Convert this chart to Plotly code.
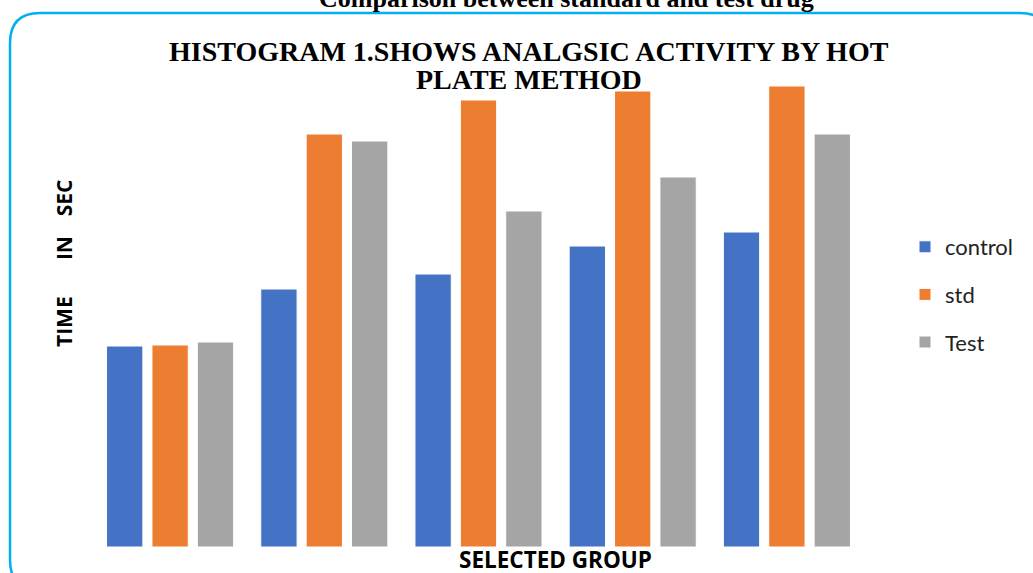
import plotly.graph_objects as go

# ---- data (seconds) ----
groups = ["Group 1", "Group 2", "Group 3", "Group 4", "Group 5"]
control = [4.02, 5.16, 5.46, 6.02, 6.30]
std = [4.04, 8.26, 8.94, 9.12, 9.22]
test = [4.10, 8.12, 6.72, 7.40, 8.26]
series_names = ["control", "std", "Test"]
colors = ["#4472C4", "#ED7D31", "#A5A5A5"]

W, H = 1033, 573
L, R, T, B = 93, 864, 47, 547


def px(x):
    return (x - L) / (R - L)


def py(y):
    return (B - y) / (B - T)


fig = go.Figure()
for i, (name, vals) in enumerate(zip(series_names, [control, std, test])):
    fig.add_trace(go.Bar(
        x=groups, y=vals, name=name, legendgroup=name,
        marker=dict(color=colors[i], line=dict(color="white", width=1)),
    ))

fig.update_layout(
    width=W, height=H,
    margin=dict(l=L, r=W - R, t=T, b=H - B, autoexpand=False),
    paper_bgcolor="white", plot_bgcolor="white",
    barmode="group", bargap=0.117, bargroupgap=0.2,
    showlegend=True,
    legend=dict(x=px(905), y=py(226), xanchor="left", yanchor="top",
                traceorder="grouped", tracegroupgap=16,
                font=dict(family="Lato", size=22, color="#222"),
                itemwidth=30),
    xaxis=dict(showticklabels=False, showgrid=False, zeroline=False,
               showline=False, ticks=""),
    yaxis=dict(range=[0, 10], showticklabels=False, showgrid=False,
               zeroline=False, showline=False, ticks=""),
)

# rounded light-blue frame
x0, y0, x1, y1, r = 10, 13, 1050, 590, 30
path = (f"M {px(x0)} {py(y0 + r)} "
        f"Q {px(x0)} {py(y0)} {px(x0 + r)} {py(y0)} "
        f"L {px(x1 - r)} {py(y0)} "
        f"Q {px(x1)} {py(y0)} {px(x1)} {py(y0 + r)} "
        f"L {px(x1)} {py(y1 - r)} "
        f"Q {px(x1)} {py(y1)} {px(x1 - r)} {py(y1)} "
        f"L {px(x0 + r)} {py(y1)} "
        f"Q {px(x0)} {py(y1)} {px(x0)} {py(y1 - r)} Z")
fig.add_shape(type="path", path=path, xref="paper", yref="paper",
              line=dict(color="#00B0F0", width=2.5), layer="below")

fig.add_annotation(
    text="<b>Comparison between standard and test drug</b>",
    x=px(566), y=py(15), xref="paper", yref="paper",
    xanchor="center", yanchor="bottom", showarrow=False,
    font=dict(family="Liberation Serif", size=26, color="black"))

title_lines = ["HISTOGRAM 1.SHOWS ANALGSIC ACTIVITY BY HOT", "PLATE METHOD"]
for line, yc in zip(title_lines, [51, 80]):
    fig.add_annotation(
        text=f"<b>{line}</b>",
        x=px(529), y=py(yc), xref="paper", yref="paper",
        xanchor="center", yanchor="middle", showarrow=False,
        font=dict(family="Liberation Serif", size=28, color="black"))

fig.add_annotation(
    text="<b>SELECTED GROUP</b>",
    x=px(555), y=py(559), xref="paper", yref="paper",
    xanchor="center", yanchor="middle", showarrow=False,
    font=dict(family="Open Sans", size=22.5, color="black"))

nb = "\u00a0"
th = "\u2009"
fig.add_annotation(
    text="<b>TIME" + nb * 6 + th + "IN" + nb * 3 + th + "SEC</b>",
    x=px(64), y=py(264), xref="paper", yref="paper",
    xanchor="center", yanchor="middle", showarrow=False, textangle=-90,
    font=dict(family="Open Sans", size=21, color="black"))

fig.write_html("out.html",
               config={"displayModeBar": False},
               post_script="document.body.style.margin='0';"
                           "document.body.style.overflow='hidden';")
